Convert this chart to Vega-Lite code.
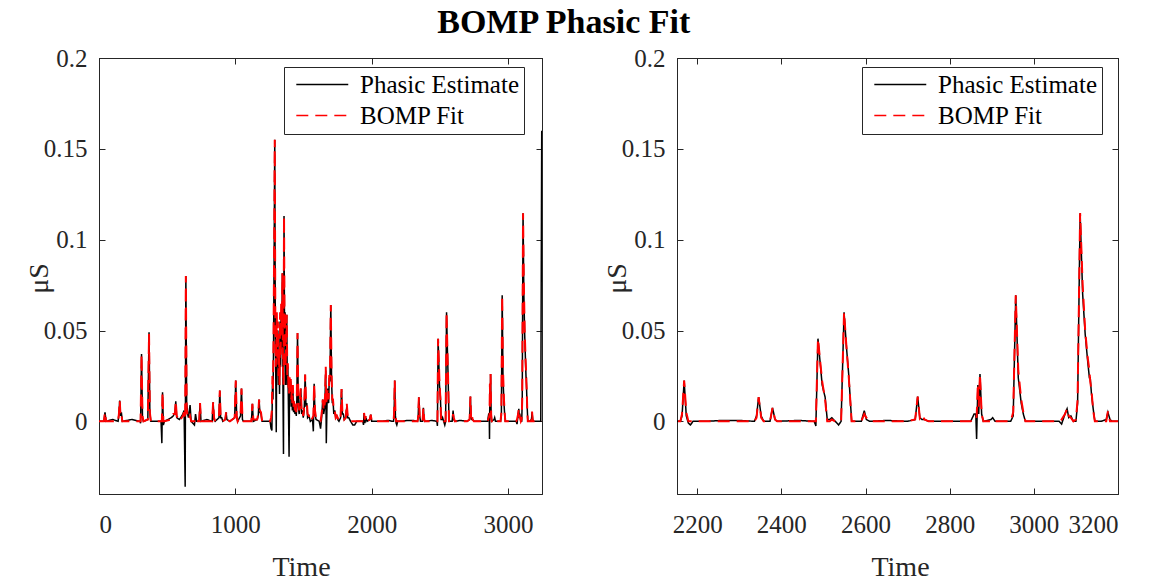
{
  "$schema": "https://vega.github.io/schema/vega-lite/v6.json",
  "background": "white",
  "padding": {"left": 24, "top": 5, "right": 5, "bottom": 5},
  "title": {"text": "BOMP Phasic Fit", "font": "Liberation Serif", "fontSize": 34, "fontWeight": "bold", "color": "#000000", "anchor": "middle", "offset": 6, "dx": -8},
  "config": {
    "view": {"stroke": "#262626", "strokeWidth": 1},
    "axis": {"labelFont": "Liberation Serif", "labelFontSize": 25, "labelColor": "#262626", "titleFont": "Liberation Serif", "titleFontSize": 28, "titleFontWeight": "normal", "titleColor": "#262626", "domainColor": "#262626", "tickColor": "#262626", "tickSize": -6, "grid": false, "labelPadding": 18},
    "axisBottom": {"labelPadding": 24},
    "legend": {"title": null, "orient": "none", "legendX": 185, "legendY": 9, "symbolType": "M-1,0H9", "symbolSize": 108, "symbolStrokeWidth": 1.6, "labelFont": "Liberation Serif", "labelFontSize": 25, "labelColor": "#000000", "labelOffset": 46, "padding": 5, "strokeColor": "#262626", "fillColor": "white", "rowPadding": 5, "labelLimit": 400}
  },
  "datasets": {
    "d": [
      {"t":0,"est":0,"fit":0},{"t":36,"est":0,"fit":0},{"t":44,"est":0.005,"fit":0.005},{"t":52,"est":0,"fit":0},{"t":100,"est":0.001,"fit":0},
      {"t":140,"est":0,"fit":0},{"t":146,"est":0.004,"fit":0.004},{"t":152,"est":0.0115,"fit":0.0115},{"t":158,"est":0.003,"fit":0.003},{"t":164,"est":0.005,"fit":0.004},{"t":171,"est":0,"fit":0},
      {"t":240,"est":0.001,"fit":0},{"t":300,"est":0,"fit":0},{"t":305,"est":-0.001,"fit":0},{"t":312,"est":0.037,"fit":0.037},{"t":319,"est":0.002,"fit":0.003},{"t":326,"est":0,"fit":0},
      {"t":358,"est":0.001,"fit":0.001},{"t":367,"est":0.049,"fit":0.048},{"t":373,"est":0.005,"fit":0.005},{"t":380,"est":0,"fit":0},
      {"t":455,"est":0,"fit":0},{"t":461,"est":-0.012,"fit":0},{"t":466,"est":0.016,"fit":0.016},{"t":472,"est":-0.002,"fit":0},{"t":480,"est":0,"fit":0},
      {"t":530,"est":0.002,"fit":0.001},{"t":545,"est":0.003,"fit":0.004},{"t":557,"est":0.005,"fit":0.004},{"t":563,"est":0.011,"fit":0.011},{"t":570,"est":0.002,"fit":0.003},{"t":590,"est":0.001,"fit":0},
      {"t":615,"est":0.004,"fit":0.003},{"t":624,"est":0.006,"fit":0.005},{"t":632,"est":-0.036,"fit":0.001},{"t":637,"est":0.08,"fit":0.08},{"t":643,"est":0.01,"fit":0.007},{"t":650,"est":0.004,"fit":0.003},{"t":656,"est":0.002,"fit":0.001},{"t":668,"est":0.009,"fit":0.003},{"t":676,"est":0,"fit":0},
      {"t":700,"est":-0.002,"fit":0},{"t":708,"est":0.004,"fit":0.002},{"t":716,"est":0,"fit":0},{"t":735,"est":0,"fit":0},{"t":741,"est":0.01,"fit":0.01},{"t":748,"est":0,"fit":0},
      {"t":790,"est":0.001,"fit":0},{"t":830,"est":0,"fit":0},{"t":837,"est":0.0105,"fit":0.0105},{"t":844,"est":0.001,"fit":0.002},{"t":852,"est":0,"fit":0},
      {"t":880,"est":0.002,"fit":0.002},{"t":886,"est":0.017,"fit":0.017},{"t":892,"est":0.002,"fit":0.003},{"t":900,"est":0.002,"fit":0.001},{"t":908,"est":0,"fit":0},
      {"t":926,"est":0.001,"fit":0.001},{"t":932,"est":0.005,"fit":0.005},{"t":938,"est":0.001,"fit":0.001},{"t":960,"est":0,"fit":0},
      {"t":995,"est":0.002,"fit":0.002},{"t":1003,"est":0.0225,"fit":0.0225},{"t":1010,"est":0.002,"fit":0.003},{"t":1017,"est":0,"fit":0},
      {"t":1038,"est":0.003,"fit":0.003},{"t":1045,"est":0.018,"fit":0.018},{"t":1052,"est":0.001,"fit":0.002},{"t":1060,"est":0,"fit":0},
      {"t":1118,"est":0,"fit":0},{"t":1125,"est":0.0097,"fit":0.0097},{"t":1132,"est":0,"fit":0.001},
      {"t":1160,"est":0.001,"fit":0.001},{"t":1168,"est":0.003,"fit":0.004},{"t":1174,"est":0.012,"fit":0.012},{"t":1180,"est":0.005,"fit":0.006},{"t":1188,"est":0.004,"fit":0.005},{"t":1196,"est":0,"fit":0},
      {"t":1255,"est":0,"fit":0},{"t":1262,"est":-0.004,"fit":0.002},{"t":1268,"est":-0.005,"fit":0.006},{"t":1272,"est":0.02,"fit":0.025},{"t":1276,"est":0.012,"fit":0.018},{"t":1280,"est":0.04,"fit":0.045},
      {"t":1285,"est":0.1,"fit":0.1},{"t":1289,"est":0.155,"fit":0.155},{"t":1293,"est":0.05,"fit":0.06},{"t":1297,"est":0.02,"fit":0.03},{"t":1300,"est":-0.006,"fit":0.04},{"t":1304,"est":0.045,"fit":0.06},
      {"t":1308,"est":0.03,"fit":0.035},{"t":1312,"est":0.05,"fit":0.055},{"t":1316,"est":0.02,"fit":0.025},{"t":1320,"est":0.035,"fit":0.04},{"t":1324,"est":0.015,"fit":0.02},{"t":1328,"est":0.055,"fit":0.06},
      {"t":1332,"est":0.03,"fit":0.035},{"t":1336,"est":0.06,"fit":0.065},{"t":1340,"est":0.04,"fit":0.05},{"t":1345,"est":0.0815,"fit":0.0815},{"t":1349,"est":0.02,"fit":0.03},{"t":1353,"est":-0.018,"fit":0.02},
      {"t":1357,"est":0.113,"fit":0.113},{"t":1361,"est":0.045,"fit":0.05},{"t":1365,"est":0.06,"fit":0.06},{"t":1369,"est":0.02,"fit":0.03},{"t":1373,"est":0.04,"fit":0.045},{"t":1377,"est":0.0586,"fit":0.0586},
      {"t":1381,"est":0.02,"fit":0.025},{"t":1385,"est":0.03,"fit":0.032},{"t":1389,"est":0.01,"fit":0.02},{"t":1394,"est":-0.0195,"fit":0.015},{"t":1398,"est":0.02,"fit":0.025},{"t":1402,"est":0.012,"fit":0.015},
      {"t":1406,"est":0.022,"fit":0.025},{"t":1410,"est":0.008,"fit":0.012},{"t":1414,"est":0.015,"fit":0.017},{"t":1418,"est":0.006,"fit":0.01},{"t":1422,"est":0.018,"fit":0.02},{"t":1427,"est":0.005,"fit":0.008},
      {"t":1432,"est":0.01,"fit":0.012},{"t":1437,"est":0.004,"fit":0.006},{"t":1442,"est":0.008,"fit":0.01},{"t":1447,"est":0.003,"fit":0.005},{"t":1451,"est":0.012,"fit":0.015},
      {"t":1456,"est":0.0486,"fit":0.0486},{"t":1462,"est":0.008,"fit":0.012},{"t":1468,"est":0.004,"fit":0.006},{"t":1474,"est":0.01,"fit":0.012},{"t":1480,"est":0.018,"fit":0.018},{"t":1486,"est":0.004,"fit":0.006},
      {"t":1492,"est":0.006,"fit":0.007},{"t":1498,"est":0.002,"fit":0.003},{"t":1505,"est":0.006,"fit":0.008},{"t":1512,"est":0.0257,"fit":0.0257},{"t":1518,"est":0.008,"fit":0.012},{"t":1524,"est":0.01,"fit":0.011},
      {"t":1530,"est":0.002,"fit":0.004},{"t":1540,"est":0.003,"fit":0.003},{"t":1550,"est":0,"fit":0},{"t":1566,"est":0.001,"fit":0.002},{"t":1572,"est":-0.0055,"fit":0.003},{"t":1578,"est":0.0207,"fit":0.0207},
      {"t":1584,"est":0.004,"fit":0.006},{"t":1592,"est":0.001,"fit":0.002},{"t":1615,"est":0,"fit":0},{"t":1625,"est":-0.004,"fit":0},{"t":1634,"est":0.003,"fit":0.005},{"t":1641,"est":0.012,"fit":0.012},
      {"t":1648,"est":0.004,"fit":0.006},{"t":1656,"est":0.008,"fit":0.01},{"t":1663,"est":0.028,"fit":0.03},{"t":1667,"est":-0.012,"fit":0.01},{"t":1673,"est":0.012,"fit":0.015},{"t":1678,"est":0.018,"fit":0.018},
      {"t":1684,"est":0.01,"fit":0.012},{"t":1689,"est":0.024,"fit":0.025},{"t":1694,"est":0.022,"fit":0.025},{"t":1700,"est":0.064,"fit":0.064},{"t":1706,"est":0.022,"fit":0.025},{"t":1711,"est":0.01,"fit":0.012},
      {"t":1716,"est":0.012,"fit":0.012},{"t":1722,"est":0.004,"fit":0.006},{"t":1729,"est":0.006,"fit":0.006},{"t":1736,"est":0.002,"fit":0.002},{"t":1744,"est":0.003,"fit":0.003},{"t":1751,"est":0.001,"fit":0.002},
      {"t":1760,"est":0,"fit":0},{"t":1772,"est":0.002,"fit":0.003},{"t":1779,"est":0.0178,"fit":0.0178},{"t":1785,"est":0.004,"fit":0.005},{"t":1792,"est":0.004,"fit":0.004},{"t":1799,"est":0.001,"fit":0.001},
      {"t":1810,"est":0.002,"fit":0.002},{"t":1817,"est":0.008,"fit":0.01},{"t":1824,"est":0.002,"fit":0.003},{"t":1832,"est":0.002,"fit":0.002},{"t":1845,"est":0,"fit":0},{"t":1862,"est":-0.002,"fit":0},
      {"t":1875,"est":-0.002,"fit":0},{"t":1890,"est":0,"fit":0},{"t":1935,"est":0,"fit":0},{"t":1940,"est":-0.002,"fit":0},{"t":1944,"est":0.0046,"fit":0.0046},{"t":1950,"est":-0.001,"fit":0.001},
      {"t":1958,"est":0.002,"fit":0.003},{"t":1966,"est":0,"fit":0},{"t":1986,"est":0.001,"fit":0.001},{"t":1993,"est":0.0037,"fit":0.0037},{"t":2000,"est":0,"fit":0},{"t":2080,"est":0,"fit":0},
      {"t":2120,"est":0.0005,"fit":0},{"t":2155,"est":0,"fit":0},{"t":2160,"est":0,"fit":0},{"t":2164,"est":0.003,"fit":0.004},{"t":2169,"est":0.0225,"fit":0.0225},{"t":2174,"est":0.003,"fit":0.005},
      {"t":2179,"est":-0.001,"fit":0},{"t":2184,"est":-0.002,"fit":0},{"t":2190,"est":0,"fit":0},{"t":2220,"est":0,"fit":0},{"t":2260,"est":0.0005,"fit":0},{"t":2300,"est":0.0005,"fit":0},
      {"t":2336,"est":0,"fit":0},{"t":2341,"est":0.003,"fit":0.002},{"t":2346,"est":0.0133,"fit":0.0133},{"t":2352,"est":0.003,"fit":0.002},{"t":2358,"est":0,"fit":0},
      {"t":2373,"est":0,"fit":0},{"t":2379,"est":0.0074,"fit":0.0074},{"t":2385,"est":0.001,"fit":0.001},{"t":2390,"est":0,"fit":0},{"t":2440,"est":0.0005,"fit":0},
      {"t":2478,"est":0,"fit":0},{"t":2482,"est":-0.0025,"fit":0},{"t":2487,"est":0.0455,"fit":0.0455},{"t":2497,"est":0.02,"fit":0.022},{"t":2504,"est":0.0133,"fit":0.012},{"t":2509,"est":0.001,"fit":0},
      {"t":2515,"est":0.001,"fit":0},{"t":2520,"est":0.002,"fit":0.001},{"t":2528,"est":0,"fit":0},{"t":2536,"est":-0.002,"fit":0},{"t":2542,"est":0,"fit":0},{"t":2549,"est":0.06,"fit":0.06},
      {"t":2555,"est":0.04,"fit":0.04},{"t":2560,"est":0.026,"fit":0.025},{"t":2567,"est":0,"fit":0},{"t":2590,"est":0,"fit":0},{"t":2597,"est":0.0059,"fit":0.004},{"t":2602,"est":0.001,"fit":0.002},
      {"t":2610,"est":0,"fit":0},{"t":2650,"est":0.0005,"fit":0},{"t":2700,"est":0,"fit":0},{"t":2718,"est":0.001,"fit":0.001},{"t":2724,"est":0.0136,"fit":0.0136},{"t":2729,"est":0.002,"fit":0.002},
      {"t":2734,"est":0.001,"fit":0.004},{"t":2740,"est":0.001,"fit":0.001},{"t":2750,"est":0,"fit":0},{"t":2800,"est":0,"fit":0},{"t":2850,"est":0,"fit":0},{"t":2858,"est":0.004,"fit":0.002},
      {"t":2862,"est":0.004,"fit":0.003},{"t":2864,"est":-0.0097,"fit":0.002},{"t":2867,"est":0.02,"fit":0.0207},{"t":2869,"est":0.004,"fit":0.008},{"t":2872,"est":0.026,"fit":0.026},{"t":2876,"est":0.004,"fit":0.004},
      {"t":2880,"est":0,"fit":0},{"t":2898,"est":0.001,"fit":0},{"t":2902,"est":0.002,"fit":0.001},{"t":2908,"est":0,"fit":0},{"t":2945,"est":0,"fit":0},{"t":2951,"est":0.003,"fit":0.005},
      {"t":2957,"est":0.0694,"fit":0.0694},{"t":2963,"est":0.024,"fit":0.028},{"t":2970,"est":0.01,"fit":0.012},{"t":2975,"est":0.004,"fit":0.005},{"t":2980,"est":0,"fit":0},{"t":3020,"est":0,"fit":0},
      {"t":3060,"est":0,"fit":0},{"t":3066,"est":-0.0015,"fit":0.001},{"t":3074,"est":0.004,"fit":0.004},{"t":3079,"est":0.0069,"fit":0.0069},{"t":3083,"est":0.002,"fit":0.003},{"t":3088,"est":0.003,"fit":0.002},
      {"t":3094,"est":0,"fit":0},{"t":3100,"est":0,"fit":0.001},{"t":3104,"est":0.01,"fit":0.012},{"t":3110,"est":0.1146,"fit":0.1146},{"t":3116,"est":0.07,"fit":0.075},{"t":3122,"est":0.048,"fit":0.05},
      {"t":3128,"est":0.033,"fit":0.035},{"t":3132,"est":0.024,"fit":0.028},{"t":3134,"est":0.024,"fit":0.022},{"t":3137,"est":0.015,"fit":0.017},{"t":3141,"est":0.007,"fit":0.006},{"t":3145,"est":0,"fit":0},
      {"t":3160,"est":0,"fit":0},{"t":3172,"est":0.001,"fit":0},{"t":3176,"est":0.005,"fit":0.0054},{"t":3181,"est":0.001,"fit":0},{"t":3186,"est":0,"fit":0},{"t":3200,"est":0,"fit":0},
      {"t":3220,"est":0,"fit":0},{"t":3240,"est":0,"fit":0},{"t":3247,"est":0.16,"fit":0}
    ]
  },
  "resolve": {"scale": {"color": "independent", "strokeDash": "independent"}, "legend": {"color": "independent", "strokeDash": "independent"}},
  "spacing": 59,
  "hconcat": [
    {
      "width": 443, "height": 436,
      "data": {"name": "d"},
      "transform": [{"fold": ["est", "fit"], "as": ["series", "value"]}],
      "encoding": {
        "color": {"field": "series", "type": "nominal", "scale": {"domain": ["est", "fit"], "range": ["#000000", "#ff0000"]}, "legend": {"labelExpr": "datum.label === 'est' ? 'Phasic Estimate' : 'BOMP Fit'"}},
        "strokeDash": {"field": "series", "type": "nominal", "scale": {"domain": ["est", "fit"], "range": [[1, 0], [12, 7]]}, "legend": {"labelExpr": "datum.label === 'est' ? 'Phasic Estimate' : 'BOMP Fit'"}}
      },
      "layer": [
        {
          "transform": [{"filter": "datum.series === 'est'"}],
          "mark": {"type": "line", "clip": true, "strokeWidth": 1.5},
          "encoding": {
            "x": {"field": "t", "type": "quantitative", "scale": {"domain": [0, 3249], "nice": false, "zero": false}, "axis": {"orient": "bottom", "values": [0, 1000, 2000, 3000], "format": "d", "title": "Time", "titleX": 202, "titleY": 73, "titleBaseline": "middle", "titleAlign": "center"}},
            "y": {"field": "value", "type": "quantitative", "scale": {"domain": [-0.04, 0.2], "nice": false}, "axis": {"orient": "left", "values": [0, 0.05, 0.1, 0.15, 0.2], "format": "~g", "title": "μS", "titleX": -60, "titleY": 220, "titleBaseline": "middle", "titleAlign": "center", "titleAngle": 270}}
          }
        },
        {
          "transform": [{"filter": "datum.series === 'fit'"}],
          "mark": {"type": "line", "clip": true, "strokeWidth": 2},
          "encoding": {
            "x": {"field": "t", "type": "quantitative", "scale": {"domain": [0, 3249], "nice": false, "zero": false}, "axis": {"orient": "top", "values": [0, 1000, 2000, 3000], "labels": false, "title": null}},
            "y": {"field": "value", "type": "quantitative", "scale": {"domain": [-0.04, 0.2], "nice": false}, "axis": {"orient": "right", "values": [0, 0.05, 0.1, 0.15, 0.2], "labels": false, "title": null}}
          }
        }
      ],
      "resolve": {"axis": {"x": "independent", "y": "independent"}}
    },
    {
      "width": 441, "height": 436,
      "data": {"name": "d"},
      "transform": [{"fold": ["est", "fit"], "as": ["series", "value"]}],
      "encoding": {
        "color": {"field": "series", "type": "nominal", "scale": {"domain": ["est", "fit"], "range": ["#000000", "#ff0000"]}, "legend": {"labelExpr": "datum.label === 'est' ? 'Phasic Estimate' : 'BOMP Fit'"}},
        "strokeDash": {"field": "series", "type": "nominal", "scale": {"domain": ["est", "fit"], "range": [[1, 0], [12, 7]]}, "legend": {"labelExpr": "datum.label === 'est' ? 'Phasic Estimate' : 'BOMP Fit'"}}
      },
      "layer": [
        {
          "transform": [{"filter": "datum.series === 'est'"}],
          "mark": {"type": "line", "clip": true, "strokeWidth": 1.5},
          "encoding": {
            "x": {"field": "t", "type": "quantitative", "scale": {"domain": [2152, 3200], "nice": false, "zero": false}, "axis": {"orient": "bottom", "values": [2200, 2400, 2600, 2800, 3000, 3200], "format": "d", "title": "Time", "titleX": 223, "titleY": 73, "titleBaseline": "middle", "titleAlign": "center"}},
            "y": {"field": "value", "type": "quantitative", "scale": {"domain": [-0.04, 0.2], "nice": false}, "axis": {"orient": "left", "values": [0, 0.05, 0.1, 0.15, 0.2], "format": "~g", "title": "μS", "titleX": -60, "titleY": 220, "titleBaseline": "middle", "titleAlign": "center", "titleAngle": 270}}
          }
        },
        {
          "transform": [{"filter": "datum.series === 'fit'"}],
          "mark": {"type": "line", "clip": true, "strokeWidth": 2},
          "encoding": {
            "x": {"field": "t", "type": "quantitative", "scale": {"domain": [2152, 3200], "nice": false, "zero": false}, "axis": {"orient": "top", "values": [2200, 2400, 2600, 2800, 3000, 3200], "labels": false, "title": null}},
            "y": {"field": "value", "type": "quantitative", "scale": {"domain": [-0.04, 0.2], "nice": false}, "axis": {"orient": "right", "values": [0, 0.05, 0.1, 0.15, 0.2], "labels": false, "title": null}}
          }
        }
      ],
      "resolve": {"axis": {"x": "independent", "y": "independent"}}
    }
  ]
}
